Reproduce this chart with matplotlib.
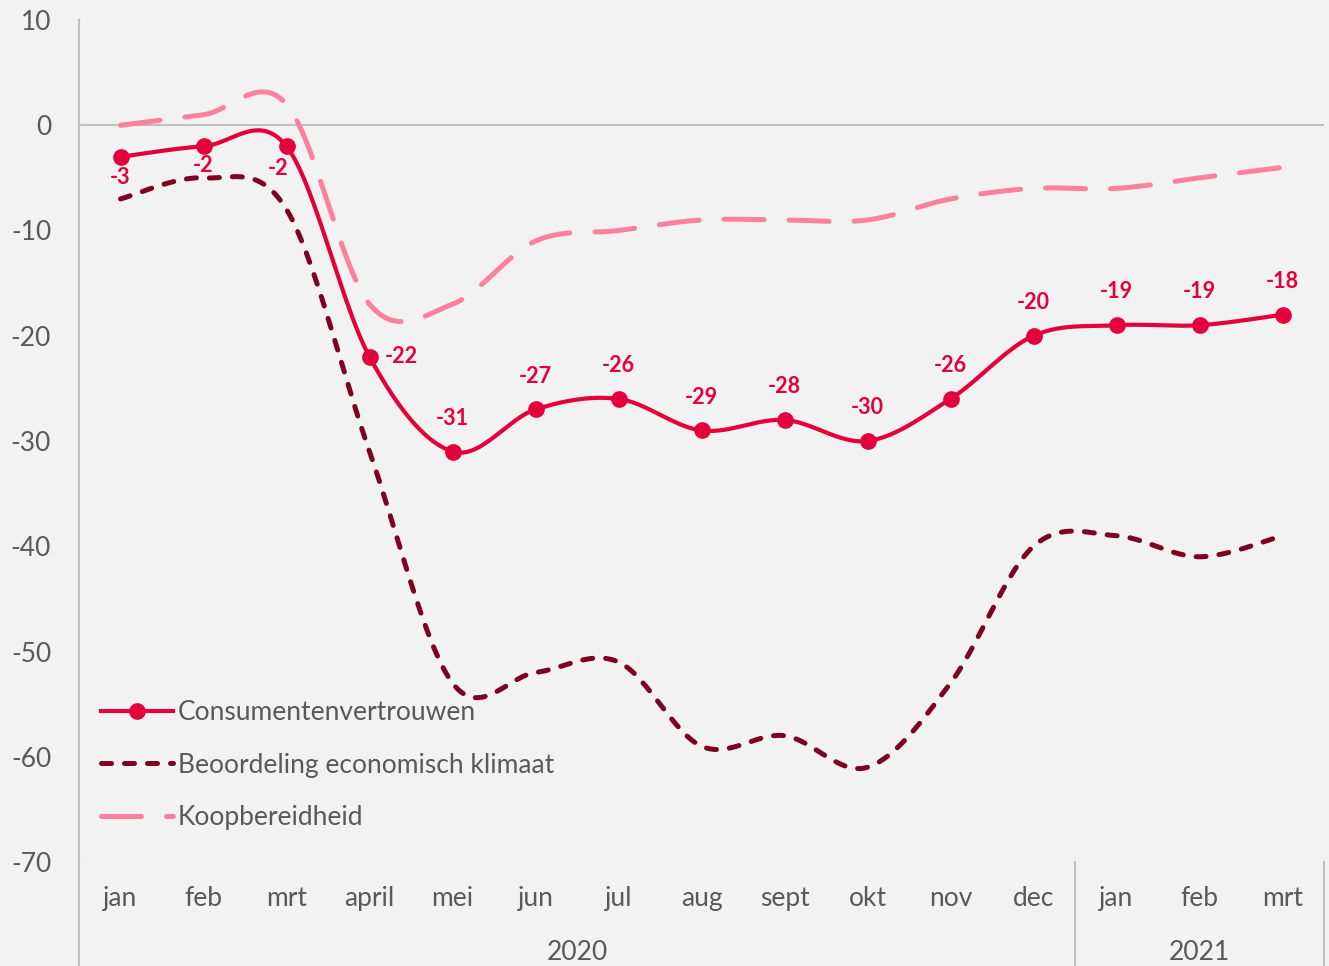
import matplotlib
matplotlib.use("Agg")
import matplotlib.pyplot as plt
import matplotlib.transforms as mtransforms
import numpy as np

plt.rcParams["font.family"] = ["Lato", "DejaVu Sans"]
plt.rcParams["axes.unicode_minus"] = False

months = ["jan", "feb", "mrt", "april", "mei", "jun", "jul", "aug", "sept",
          "okt", "nov", "dec", "jan", "feb", "mrt"]
years = ["2020", "2021"]
year_spans = [(0, 11), (12, 14)]

consumentenvertrouwen = [-3, -2, -2, -22, -31, -27, -26, -29, -28, -30, -26, -20, -19, -19, -18]
economisch_klimaat = [-7, -5, -8, -31, -53, -52, -51, -59, -58, -61, -53, -40, -39, -41, -39]
koopbereidheid = [0, 1, 2, -17, -17, -11, -10, -9, -9, -9, -7, -6, -6, -5, -4]

# label placement for Consumentenvertrouwen: offset in points (dx, dy)
label_offsets = [(0, -15), (0, -14), (-6, -16), (23, 0)] + [(0, 24)] * 11

BG = "#F2F2F2"
GRID = "#BFBFBF"
TXT = "#595959"
RED = "#E4003A"
MAROON = "#7F0020"
PINK = "#FF7F9E"


def smooth(y, n=30):
    # Excel-like smoothed line (cardinal bezier, tension 1/6)
    y = np.asarray(y, dtype=float)
    x = np.arange(len(y), dtype=float)
    xs, ys = [], []
    for i in range(len(y) - 1):
        i0 = max(i - 1, 0)
        i3 = min(i + 2, len(y) - 1)
        p0 = np.array([x[i], y[i]])
        p3 = np.array([x[i + 1], y[i + 1]])
        c1 = p0 + (p3 - np.array([x[i0], y[i0]])) / 6
        c2 = p3 - (np.array([x[i3], y[i3]]) - p0) / 6
        t = np.linspace(0, 1, n)[:, None]
        b = ((1 - t) ** 3 * p0 + 3 * (1 - t) ** 2 * t * c1
             + 3 * (1 - t) * t ** 2 * c2 + t ** 3 * p3)
        if i > 0:
            b = b[1:]
        xs.extend(b[:, 0])
        ys.extend(b[:, 1])
    return np.array(xs), np.array(ys)


fig = plt.figure(figsize=(13.29, 9.66), dpi=100, facecolor=BG)
ax = fig.add_axes([79 / 1329, 1 - 862 / 966, 1245 / 1329, 842 / 966])
ax.set_facecolor(BG)

x = np.arange(len(months))

sx, sy = smooth(koopbereidheid)
ax.plot(sx, sy, color=PINK, lw=3.6, dashes=(8, 5), dash_capstyle="round",
        label="Koopbereidheid", zorder=3)
sx, sy = smooth(economisch_klimaat)
ax.plot(sx, sy, color=MAROON, lw=3.6, dashes=(2.0, 2.6), dash_capstyle="round",
        label="Beoordeling economisch klimaat", zorder=3)
sx, sy = smooth(consumentenvertrouwen)
ax.plot(sx, sy, color=RED, lw=3.0, solid_capstyle="round", zorder=4)
ax.plot(x, consumentenvertrouwen, color=RED, lw=0, marker="o", markersize=11, zorder=5)

for i, v in enumerate(consumentenvertrouwen):
    dx, dy = label_offsets[i]
    ax.annotate(str(v), (x[i], v), xytext=(dx, dy), textcoords="offset points",
                ha="center", va="center", fontsize=15.5, fontweight="bold", color=RED)

ax.set_xlim(-0.5, len(months) - 0.5)
ax.set_ylim(-70, 10)
ax.set_yticks(range(-70, 11, 10))
ax.set_xticks([])
ax.tick_params(axis="y", length=0, labelsize=19, colors=TXT, pad=20)
for s in ["top", "right", "bottom"]:
    ax.spines[s].set_visible(False)
ax.spines["left"].set_color(GRID)
ax.spines["left"].set_linewidth(1.5)
ax.axhline(0, color=GRID, lw=1.5, zorder=1)

trans = mtransforms.blended_transform_factory(ax.transData, ax.transAxes)
for i, m in enumerate(months):
    ax.text(i, -0.043, m, transform=trans, ha="center", va="center", fontsize=19, color=TXT)
for yr, (a, b) in zip(years, year_spans):
    ax.text((a + b) / 2, -0.107, yr, transform=trans, ha="center", va="center",
            fontsize=19, color=TXT)
ax.plot([-0.5, -0.5], [0, -0.2], transform=trans, color=GRID, lw=1.5, clip_on=False)
ax.plot([11.5, 11.5], [0, -0.2], transform=trans, color=GRID, lw=1.5, clip_on=False)
ax.plot([14.5, 14.5], [0, -0.2], transform=trans, color=GRID, lw=1.5, clip_on=False)

# legend
h1, = ax.plot([], [], color=RED, lw=3.0, marker="o", markersize=11)
h2 = ax.get_lines()[1]
h3 = ax.get_lines()[0]
ax.legend([h1, h2, h3], ["Consumentenvertrouwen", "Beoordeling economisch klimaat", "Koopbereidheid"],
          loc="center left", bbox_to_anchor=(0.018, 0.115), frameon=False, fontsize=19,
          labelcolor=TXT, handlelength=2.7, handletextpad=0.2, labelspacing=1.05,
          borderpad=0, borderaxespad=0)

fig.savefig("out.png", dpi=100, facecolor=BG)
